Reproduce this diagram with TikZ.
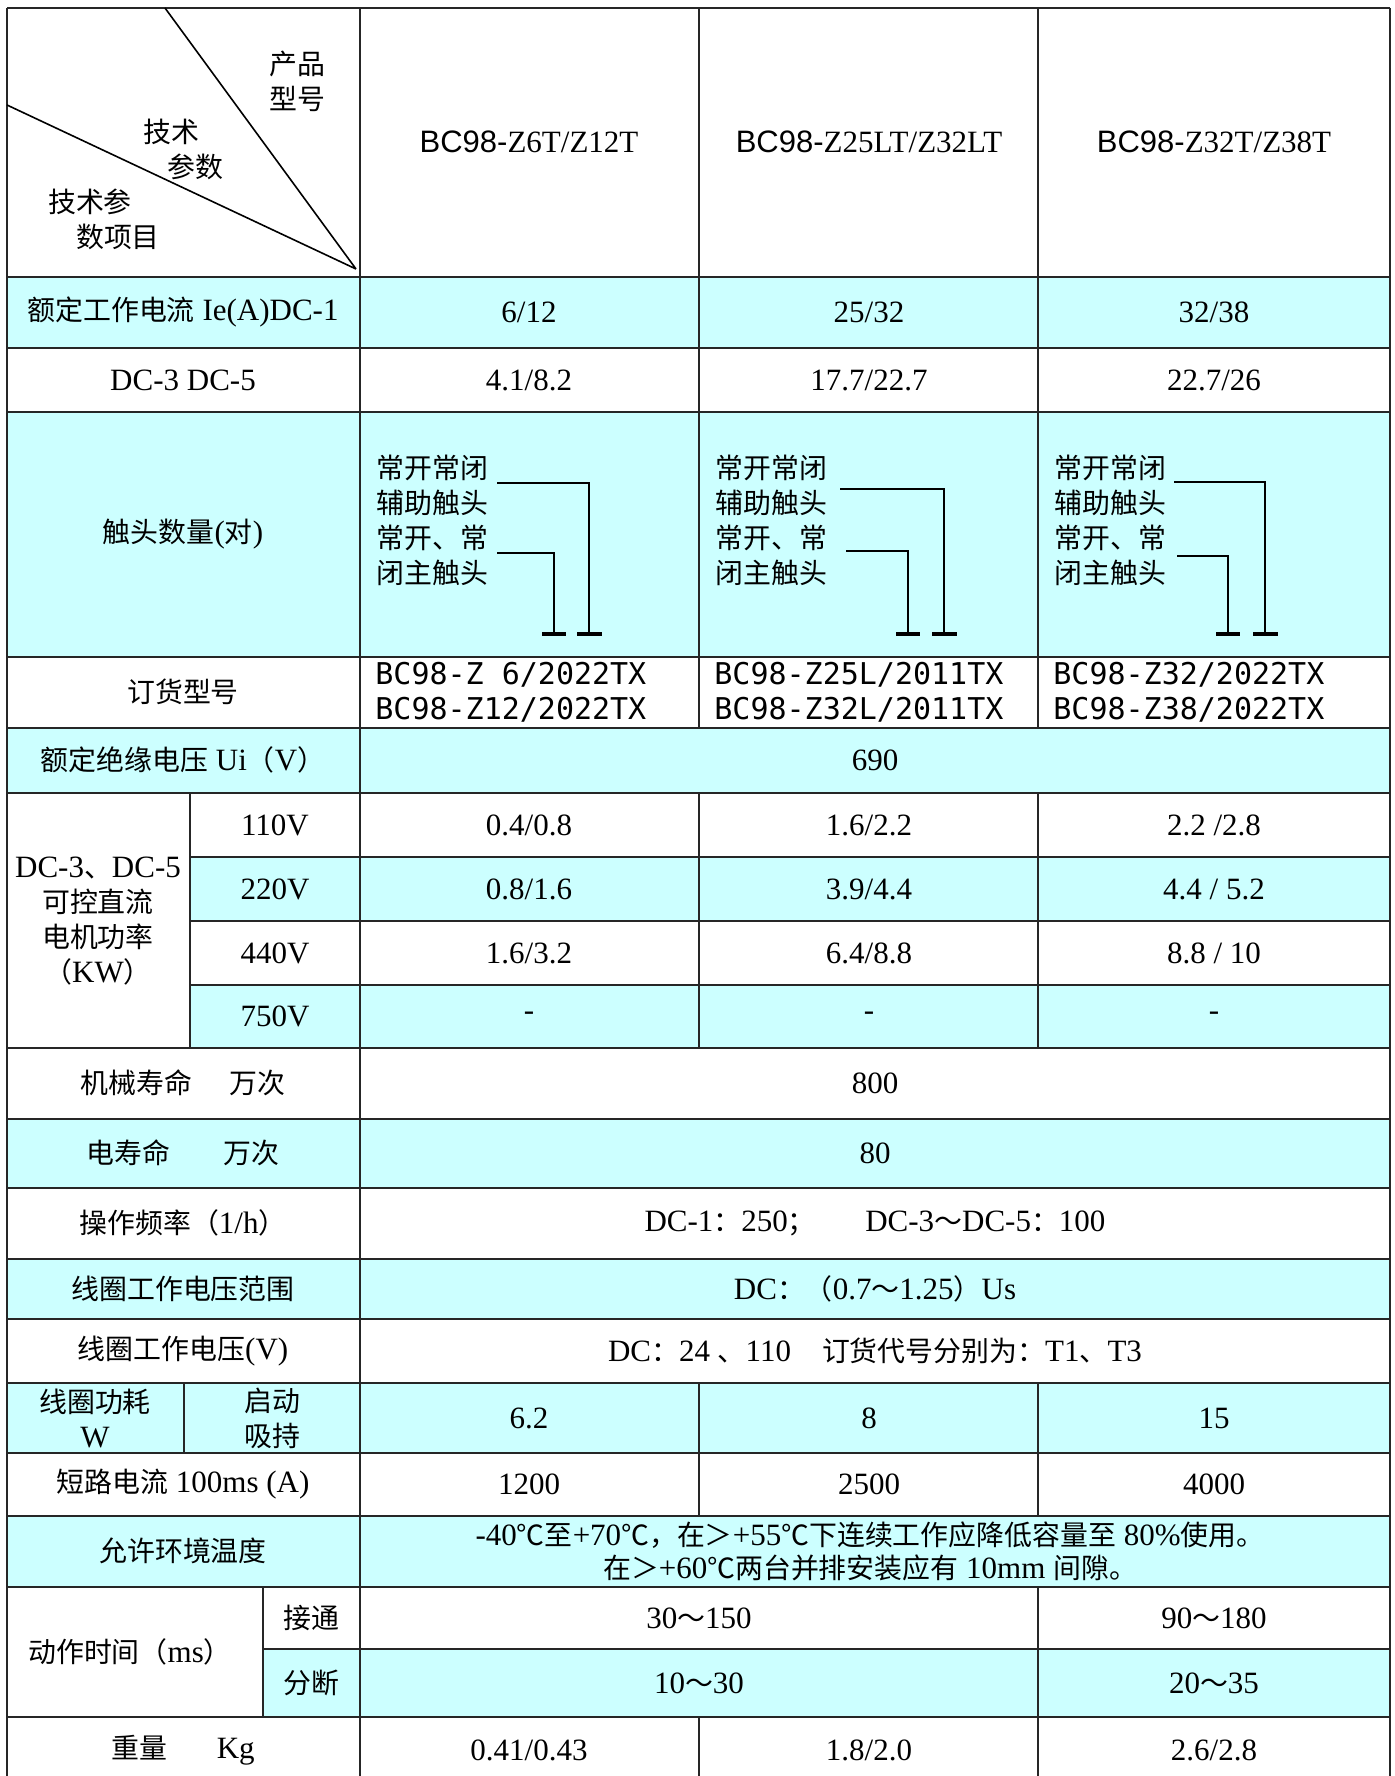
\documentclass[tikz,border=0pt]{standalone}
\usepackage{fontspec}
\setmainfont{Liberation Serif}
\newfontfamily\cjkfont[Scale=0.9]{Noto Sans CJK SC}
\newfontfamily\codefont{DejaVu Sans Mono}
\newfontfamily\modelfont{Liberation Sans}
% Chinese characters switch to the CJK font by themselves
\XeTeXinterchartokenstate=1
\newXeTeXintercharclass\cjkclass
\newcount\cjkchar
\newcommand\setcjk[2]{\cjkchar=#1\relax
  \loop\XeTeXcharclass\cjkchar=\cjkclass\relax
  \ifnum\cjkchar<#2\relax\advance\cjkchar by 1\repeat}
\setcjk{"4E00}{"9FFF}
\setcjk{"3000}{"303F}
\setcjk{"FF00}{"FFEF}
\setcjk{"2103}{"2103}
\XeTeXinterchartoks 0 \cjkclass = {\cjkfont}
\XeTeXinterchartoks 4095 \cjkclass = {\cjkfont}
\XeTeXinterchartoks \cjkclass 0 = {\rmfamily}
\XeTeXinterchartoks \cjkclass 4095 = {\rmfamily}
\definecolor{rowcyan}{RGB}{204,255,255}

\begin{document}
\begin{tikzpicture}[x=0.5pt,y=-0.5pt,
  every node/.style={inner sep=0pt,font=\fontsize{15.5}{17.5}\selectfont},
  rule/.style={line width=1pt,black!85},
  wire/.style={line width=1pt},
  bar/.style={line width=2.2pt},
  ordercode/.style={font=\fontsize{15}{17.5}\selectfont\codefont,align=left,anchor=west}]
\fill[white] (0,0) rectangle (1395,1776);
\useasboundingbox (0,0) rectangle (1395,1776);
% shaded rows
\foreach \xa/\ya/\yb in {7/277/348,7/412/657,7/728/793,190/857/921,190/985/1048,
  7/1119/1188,7/1259/1319,7/1383/1453,7/1516/1587,263/1649/1717}
  \fill[rowcyan] (\xa,\ya) rectangle (1390,\yb);
% table rules
\foreach \y in {8,277,348,412,657,728,793,1048,1119,1188,1259,1319,1383,1453,1516,1587,1717}
  \draw[rule] (7,\y) -- (1390,\y);
\foreach \y in {857,921,985}
  \draw[rule] (190,\y) -- (1390,\y);
\draw[rule] (263,1649) -- (1390,1649);
\draw[rule] (7,8) -- (7,1776) (360,8) -- (360,1776) (1390,8) -- (1390,1776);
\draw[rule] (699,8) -- (699,728) (699,793) -- (699,1048) (699,1383) -- (699,1516) (699,1717) -- (699,1776);
\draw[rule] (1038,8) -- (1038,728) (1038,793) -- (1038,1048) (1038,1383) -- (1038,1516) (1038,1587) -- (1038,1776);
\draw[rule] (190,793) -- (190,1048) (184,1383) -- (184,1453) (263,1587) -- (263,1717);
% corner cell
\coordinate (vtx) at (356,269);
\draw[line width=0.8pt] (165,8) -- (vtx) (7,105) -- (vtx);
\node[align=center] (prod) at (297,81) {产品\\型号};
\node (parA) at (171,132) {技术};
\node (parB) at (195,167) {参数};
\node (itemA) at (90,202) {技术参};
\node (itemB) at (118,237) {数项目};
\node (m1) at (529,142) {{\modelfont BC98-}Z6T/Z12T};
\node (m2) at (869,142) {{\modelfont BC98-}Z25LT/Z32LT};
\node (m3) at (1214,142) {{\modelfont BC98-}Z32T/Z38T};
% rated current
\node (cur) at (183,312) {额定工作电流 Ie(A)DC-1};
\node (cur1) at (529,312) {6/12};
\node (cur2) at (869,312) {25/32};
\node (cur3) at (1214,312) {32/38};
\node (dc) at (183,380) {DC-3 DC-5};
\node (dc1) at (529,380) {4.1/8.2};
\node (dc2) at (869,380) {17.7/22.7};
\node (dc3) at (1214,380) {22.7/26};
% contacts
\node (cont) at (183,534) {触头数量(对)};
\foreach \cx/\ua/\ub/\uy/\la/\lb/\ly [count=\i] in {360/137/229/483/137/194/553,
  699/141/245/489/147/209/551, 1038/136/227/482/139/190/556}
{
  \node[align=left,anchor=west] (ct\i) at ({\cx+16},520) {常开常闭\\辅助触头\\常开、常\\闭主触头};
  \draw[wire] ({\cx+\ua},\uy) -| ({\cx+\ub},634);
  \draw[wire] ({\cx+\la},\ly) -| ({\cx+\lb},634);
  \draw[bar] ({\cx+\lb-12},634) -- ({\cx+\lb+12},634);
  \draw[bar] ({\cx+\ub-12},634) -- ({\cx+\ub+13},634);
}
% order numbers
\node (ord) at (183,692) {订货型号};
\node[ordercode] (oc1) at (375,692) {BC98-Z 6/2022TX\\BC98-Z12/2022TX};
\node[ordercode] (oc2) at (714,692) {BC98-Z25L/2011TX\\BC98-Z32L/2011TX};
\node[ordercode] (oc3) at (1053,692) {BC98-Z32/2022TX\\BC98-Z38/2022TX};
\node (ins) at (183,760) {额定绝缘电压 Ui（V）};
\node (ins1) at (875,760) {690};
% motor power
\node[align=center] (motor) at (98,921) {DC-3、DC-5\\可控直流\\电机功率\\（KW）};
\foreach \v/\y/\pa/\pb/\pc in {110V/825/0.4\slash0.8/1.6\slash2.2/2.2 \slash2.8,
  220V/889/0.8\slash1.6/3.9\slash4.4/4.4 \slash\ 5.2,
  440V/953/1.6\slash3.2/6.4\slash8.8/8.8 \slash\ 10,
  750V/1016/-/-/-}
{
  \node (u\v) at (275,\y) {\v};
  \node (p\v a) at (529,\y) {\pa};
  \node (p\v b) at (869,\y) {\pb};
  \node (p\v c) at (1214,\y) {\pc};
}
% life and coil
\node (mech) at (183,1083) {机械寿命\hspace{1.2em}万次};
\node (mech1) at (875,1083) {800};
\node (elec) at (183,1153) {电寿命\hspace{1.7em}万次};
\node (elec1) at (875,1153) {80};
\node (freq) at (183,1223) {操作频率（1/h）};
\node (freq1) at (875,1223) {DC-1：250；\hspace{1.6em}DC-3～DC-5：100};
\node (range) at (183,1289) {线圈工作电压范围};
\node (range1) at (875,1289) {DC：（0.7～1.25）Us};
\node (coil) at (183,1351) {线圈工作电压(V)};
\node (coil1) at (875,1351) {DC：24 、110\hspace{1em}订货代号分别为：T1、T3};
\node[align=center] (pow) at (95,1418) {线圈功耗\\W};
\node[align=center] (hold) at (272,1418) {启动\\吸持};
\node (pow1) at (529,1418) {6.2};
\node (pow2) at (869,1418) {8};
\node (pow3) at (1214,1418) {15};
\node (short) at (183,1484) {短路电流 100ms (A)};
\node (short1) at (529,1484) {1200};
\node (short2) at (869,1484) {2500};
\node (short3) at (1214,1484) {4000};
\node (temp) at (183,1551) {允许环境温度};
\node[align=center,font=\fontsize{15.5}{16.5}\selectfont] (temp1) at (870,1551)
  {-40℃至+70℃，在＞+55℃下连续工作应降低容量至 80\%使用。\\在＞+60℃两台并排安装应有 10mm 间隙。};
% operating time
\node (act) at (130,1652) {动作时间（ms）};
\node (on) at (311,1618) {接通};
\node (off) at (311,1683) {分断};
\node (on1) at (699,1618) {30～150};
\node (on2) at (1214,1618) {90～180};
\node (off1) at (699,1683) {10～30};
\node (off2) at (1214,1683) {20～35};
\node (wt) at (183,1750) {重量\hspace{1.6em}Kg};
\node (wt1) at (529,1750) {0.41/0.43};
\node (wt2) at (869,1750) {1.8/2.0};
\node (wt3) at (1214,1750) {2.6/2.8};
\end{tikzpicture}
\end{document}
